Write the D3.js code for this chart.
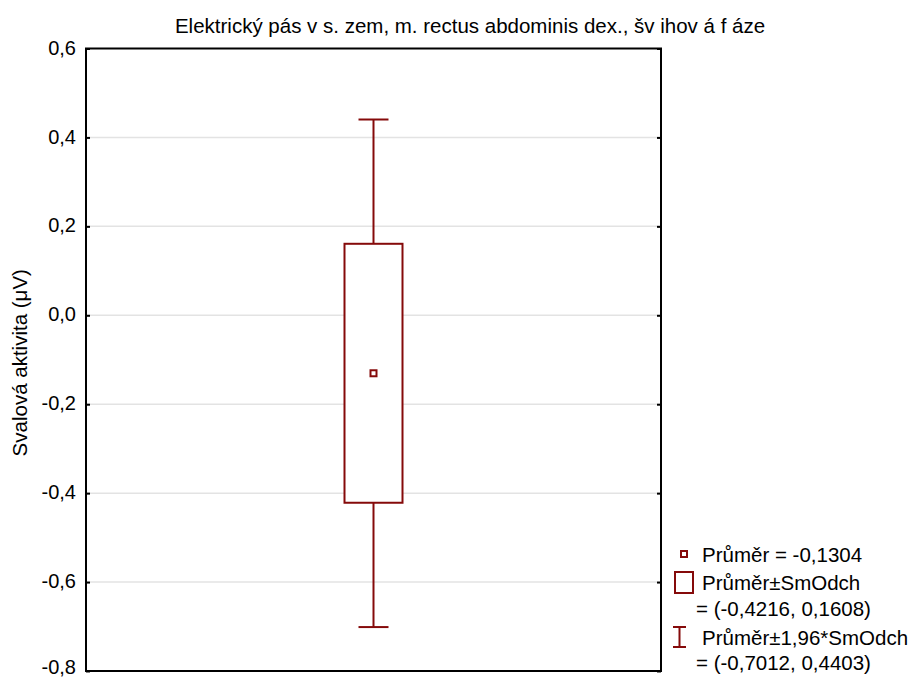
<!DOCTYPE html>
<html>
<head>
<meta charset="utf-8">
<script src="https://cdn.jsdelivr.net/npm/d3@7"></script>
<style>
  body { margin: 0; background: #fff; }
  svg { display: block; font-family: "Liberation Sans", Arial, sans-serif; }
</style>
</head>
<body>
<svg id="chart" width="914" height="679"></svg>
<script>
// Summary statistics (mean, ±SD, ±1.96*SD)
const meanValue = -0.1304;
const sdBand = [-0.4216, 0.1608];
const ciBand = [-0.7012, 0.4403];
const yTicks = [0.6, 0.4, 0.2, 0.0, -0.2, -0.4, -0.6, -0.8];
const yDomain = [-0.8, 0.6];
const category = ["Elektrický pás vs. zem"];

const titleText = "Elektrický pás v s. zem, m. rectus abdominis dex., šv ihov á f áze";
const yLabel = "Svalová aktivita (μV)";
const legendLabels = [
  "Průměr = -0,1304",
  "Průměr±SmOdch",
  "= (-0,4216, 0,1608)",
  "Průměr±1,96*SmOdch",
  "= (-0,7012, 0,4403)"
];

const color = "#850a0a";
const svg = d3.select("#chart");
const margin = { left: 86, right: 253, top: 48.5, bottom: 8 };
const W = 914, H = 679;
const x0 = margin.left, x1 = W - margin.right, y0 = margin.top, y1 = H - margin.bottom;

const y = d3.scaleLinear().domain(yDomain).range([y1, y0]);
const x = d3.scaleBand().domain(category).range([x0, x1]).paddingInner(0).paddingOuter(0);
const fmt = v => d3.format(".1f")(v).replace(".", ",").replace("−", "-");

// Grid lines
svg.append("g").selectAll("line")
  .data(yTicks.filter(t => t > yDomain[0] && t < yDomain[1]))
  .join("line")
  .attr("x1", x0).attr("x2", x1)
  .attr("y1", d => y(d)).attr("y2", d => y(d))
  .attr("stroke", "#e3e3e3").attr("stroke-width", 1.5);

// Left axis with inward ticks
const leftAxis = d3.axisLeft(y).tickValues(yTicks).tickSize(-4).tickPadding(10).tickFormat(fmt);
const gl = svg.append("g").attr("transform", `translate(${x0},0)`).call(leftAxis);
gl.select(".domain").remove();
gl.selectAll(".tick line").attr("stroke", "#000").attr("stroke-width", 2);
gl.selectAll(".tick text").attr("font-size", 20).attr("fill", "#000")
  .attr("dy", d => d === yDomain[0] ? "0.1em" : "0.28em")
  .attr("font-family", "Liberation Sans, Arial, sans-serif");

// Right axis ticks (no labels)
const rightAxis = d3.axisRight(y).tickValues(yTicks).tickSize(-4).tickFormat("");
const gr = svg.append("g").attr("transform", `translate(${x1},0)`).call(rightAxis);
gr.select(".domain").remove();
gr.selectAll(".tick line").attr("stroke", "#000").attr("stroke-width", 2);

// Frame
svg.append("rect")
  .attr("x", x0).attr("y", y0).attr("width", x1 - x0).attr("height", y1 - y0)
  .attr("fill", "none").attr("stroke", "#000").attr("stroke-width", 2);

// Box plot
const cx = x(category[0]) + x.bandwidth() / 2;
const boxW = 58, capW = 30;
const g = svg.append("g").attr("stroke", color).attr("stroke-width", 2).attr("fill", "none");
g.append("line").attr("x1", cx).attr("x2", cx).attr("y1", y(ciBand[1])).attr("y2", y(sdBand[1]));
g.append("line").attr("x1", cx).attr("x2", cx).attr("y1", y(sdBand[0])).attr("y2", y(ciBand[0]));
g.append("line").attr("x1", cx - capW / 2).attr("x2", cx + capW / 2).attr("y1", y(ciBand[1])).attr("y2", y(ciBand[1]));
g.append("line").attr("x1", cx - capW / 2).attr("x2", cx + capW / 2).attr("y1", y(ciBand[0])).attr("y2", y(ciBand[0]));
g.append("rect").attr("x", cx - boxW / 2).attr("width", boxW)
  .attr("y", y(sdBand[1])).attr("height", y(sdBand[0]) - y(sdBand[1])).attr("fill", "#fff");
g.append("rect").attr("x", cx - 3).attr("y", y(meanValue) - 3).attr("width", 6).attr("height", 6).attr("fill", "#fff");

// Title
svg.append("text").attr("x", 470).attr("y", 33).attr("text-anchor", "middle")
  .attr("font-size", 20.5).attr("fill", "#000").text(titleText);

// Y label
svg.append("text").attr("transform", `translate(27,${(y0 + y1) / 2 + 3}) rotate(-90)`)
  .attr("text-anchor", "middle").attr("font-size", 20.5).attr("fill", "#000").text(yLabel);

// Legend
const lg = svg.append("g").attr("font-size", 20.5).attr("fill", "#000");
lg.append("rect").attr("x", 681).attr("y", 551).attr("width", 6).attr("height", 6)
  .attr("fill", "#fff").attr("stroke", color).attr("stroke-width", 2);
lg.append("rect").attr("x", 675).attr("y", 572).attr("width", 18).attr("height", 21)
  .attr("fill", "#fff").attr("stroke", color).attr("stroke-width", 2);
const wl = lg.append("g").attr("stroke", color).attr("stroke-width", 2);
wl.append("line").attr("x1", 673).attr("x2", 686).attr("y1", 627).attr("y2", 627);
wl.append("line").attr("x1", 673).attr("x2", 686).attr("y1", 647).attr("y2", 647);
wl.append("line").attr("x1", 679.5).attr("x2", 679.5).attr("y1", 627).attr("y2", 647);
const lx = [702, 702, 696, 702, 696];
const ly = [562, 590, 616, 645, 670];
lg.selectAll("text.leg").data(legendLabels).join("text")
  .attr("class", "leg").attr("x", (d, i) => lx[i]).attr("y", (d, i) => ly[i]).text(d => d);
</script>
</body>
</html>
